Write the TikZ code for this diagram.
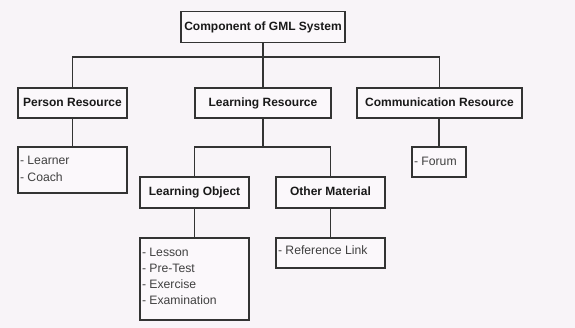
\documentclass[tikz,border=0pt]{standalone}
\usepackage{fontspec}
\setmainfont{Liberation Sans}
\begin{document}
\begin{tikzpicture}[x=1pt,y=-1pt,
  every node/.style={inner sep=0pt, outer sep=0pt},
  box/.style={draw=boxline, line width=1.1pt, fill=white!40!bgc, rectangle},
  head/.style={box, font=\fontsize{12}{14}\selectfont\bfseries, text=black!90, text height=9pt, text depth=2.5pt},
  itemtxt/.style={anchor=base west, font=\fontsize{12.2}{14}\selectfont, text=black!75},
  conn/.style={draw=boxline, line width=1.1pt}
]
\definecolor{bgc}{HTML}{F8F4F8}
\definecolor{boxline}{HTML}{333333}
\fill[bgc] (0,0) rectangle (575,328);
\useasboundingbox (0,0) rectangle (575,328);

% header boxes
\node[head, minimum width=164pt, minimum height=31pt] (top) at (263,27) {Component of GML System};
\node[head, minimum width=109pt, minimum height=30pt] (person) at (72.5,103) {Person Resource};
\node[head, minimum width=136pt, minimum height=30pt] (learn) at (263,103) {Learning Resource};
\node[head, minimum width=165pt, minimum height=30pt] (comm) at (439.5,103) {Communication Resource};
\node[head, minimum width=109pt, minimum height=31pt] (lobj) at (194.5,192.5) {Learning Object};
\node[head, minimum width=109pt, minimum height=31pt] (other) at (330.5,192.5) {Other Material};

% item boxes
\node[box, minimum width=109pt, minimum height=46pt] (personitems) at (72.5,170) {};
\node[box, minimum width=54pt, minimum height=30pt] (forum) at (439,162) {};
\node[box, minimum width=109pt, minimum height=82pt] (lobjitems) at (194.5,279) {};
\node[box, minimum width=109pt, minimum height=30pt] (otheritems) at (330.5,253) {};

% item texts
\node[itemtxt] (t1) at ([shift={(2,18)}]personitems.north west) {- Learner};
\node[itemtxt] (t2) at ([shift={(2,34.5)}]personitems.north west) {- Coach};
\node[itemtxt] (t3) at ([shift={(2,19)}]forum.north west) {- Forum};
\node[itemtxt] (t4) at ([shift={(2,19)}]lobjitems.north west) {- Lesson};
\node[itemtxt] (t5) at ([shift={(2,35)}]lobjitems.north west) {- Pre-Test};
\node[itemtxt] (t6) at ([shift={(2,51)}]lobjitems.north west) {- Exercise};
\node[itemtxt] (t7) at ([shift={(2,66.5)}]lobjitems.north west) {- Examination};
\node[itemtxt] (t8) at ([shift={(2,17)}]otheritems.north west) {- Reference Link};

% connectors
\coordinate (j1) at (263,57);
\coordinate (j2) at (263,147);
\draw[conn] (top.south) -- (j1);
\draw[conn] (person.north) |- (j1) -| (comm.north);
\draw[conn] (j1) -- (learn.north);
\draw[conn] (person.south) -- (personitems.north);
\draw[conn] (comm.south -| forum.north) -- (forum.north);
\draw[conn] (learn.south) -- (j2);
\draw[conn] (lobj.north) |- (j2) -| (other.north);
\draw[conn] (lobj.south) -- (lobjitems.north);
\draw[conn] (other.south) -- (otheritems.north);
\end{tikzpicture}
\end{document}
